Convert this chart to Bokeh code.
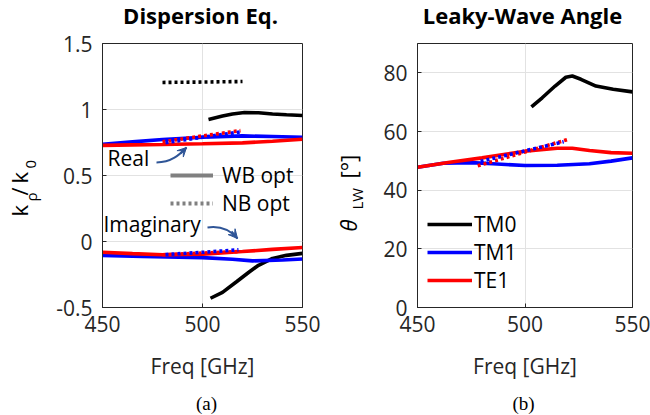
import numpy as np
from bokeh.plotting import figure
from bokeh.layouts import row, column
from bokeh.models import Range1d, FixedTicker, Legend, LegendItem, Label, Arrow, VeeHead
from bokeh.embed import file_html
from bokeh.resources import INLINE

# ---------------- data: normalised wavenumber k_rho/k_0 ----------------
freq_ticks = [450, 500, 550]
kr_ticks = [-0.5, 0, 0.5, 1, 1.5]
kr_tick_labels = ["-0.5", "0", "0.5", "1", "1.5"]
ang_ticks = [0, 20, 40, 60, 80]
ang_tick_labels = ["0", "20", "40", "60", "80"]

# wide-band optimised (solid), real part
tm0_wb_re_f = [503, 510, 515, 521, 528, 535, 542, 550]
tm0_wb_re = [0.925, 0.950, 0.966, 0.977, 0.975, 0.966, 0.960, 0.955]
tm1_wb_re_f = [450, 465, 480, 500, 520, 535, 550]
tm1_wb_re = [0.737, 0.755, 0.773, 0.790, 0.800, 0.795, 0.790]
te1_wb_re_f = [450, 465, 480, 500, 520, 535, 550]
te1_wb_re = [0.728, 0.732, 0.735, 0.740, 0.747, 0.760, 0.775]

# wide-band optimised (solid), imaginary part
tm0_wb_im_f = [504, 510, 517, 523, 528, 535, 542, 550]
tm0_wb_im = [-0.43, -0.385, -0.305, -0.235, -0.180, -0.128, -0.105, -0.090]
tm1_wb_im_f = [450, 470, 500, 515, 525, 540, 550]
tm1_wb_im = [-0.106, -0.113, -0.122, -0.135, -0.147, -0.140, -0.132]
te1_wb_im_f = [450, 465, 480, 500, 520, 535, 550]
te1_wb_im = [-0.081, -0.092, -0.100, -0.097, -0.076, -0.060, -0.046]

# narrow-band optimised (dotted)
tm0_nb_re_f = [480, 500, 520]
tm0_nb_re = [1.205, 1.208, 1.212]
tm1_nb_re_f = [480, 500, 519]
tm1_nb_re = [0.745, 0.790, 0.830]
te1_nb_re_f = [480, 500, 519]
te1_nb_re = [0.755, 0.800, 0.840]
tm1_nb_im_f = [480, 500, 518]
tm1_nb_im = [-0.100, -0.082, -0.063]
te1_nb_im_f = [480, 500, 518]
te1_nb_im = [-0.100, -0.088, -0.076]

# ---------------- data: leaky-wave pointing angle (deg) ----------------
tm0_wb_ang_f = [503, 508, 514, 519, 522, 526, 533, 541, 550]
tm0_wb_ang = [68.4, 71.5, 75.5, 78.5, 78.9, 77.8, 75.5, 74.4, 73.5]
tm1_wb_ang_f = [450, 462, 475, 485, 500, 515, 530, 540, 550]
tm1_wb_ang = [47.8, 49.2, 49.4, 49.0, 48.4, 48.5, 49.0, 49.9, 51.0]
te1_wb_ang_f = [450, 465, 480, 500, 515, 522, 530, 540, 550]
te1_wb_ang = [47.8, 49.5, 51.0, 53.3, 54.3, 54.3, 53.5, 52.8, 52.6]
tm1_nb_ang_f = [478, 500, 518]
tm1_nb_ang = [49.6, 53.4, 56.5]
te1_nb_ang_f = [478, 500, 520]
te1_nb_ang = [48.3, 53.0, 57.3]

# sample segment used only for the line-style key (kept outside the visible x range)
key_f = [400, 401]
key_v = [0, 0]

FONT = "Open Sans"
INK = "#262626"
BLUE = "#0000ff"
RED = "#ff0000"
ARROW = "#2f5597"
SOLID_W = 3.6
DOT_W = 3.6
DOT = "3 3"

# page geometry (pixels)
TITLE_H = 30          # strip carrying the panel titles
CAP_H = 22            # strip carrying the (a)/(b) captions
MAIN_H = 415 - TITLE_H - CAP_H
YL_W = 48             # width of each strip that carries a rotated y label
L_X0, L_X1 = 102, 302
R_X0, R_X1 = 417, 632
F_TOP, F_BOT = 43, 307


def left_xy(sx, sy):
    return (450 + (sx - L_X0) / (L_X1 - L_X0) * 100,
            1.5 - (sy - F_TOP) / (F_BOT - F_TOP) * 2.0)


def text_strip(width, height):
    # blank canvas in pixel coordinates (y grows downward) for free-standing text
    s = figure(frame_width=width, frame_height=height, output_backend="svg",
               toolbar_location=None, title=None,
               x_range=Range1d(0, width), y_range=Range1d(height, 0),
               x_axis_type=None, y_axis_type=None,
               min_border_left=0, min_border_right=0, min_border_top=0, min_border_bottom=0)
    s.outline_line_color = None
    s.background_fill_color = "white"
    s.border_fill_color = "white"
    return s


def make_fig(width, left, right, yr, yticks, ylabels):
    p = figure(width=width, height=MAIN_H, output_backend="svg", toolbar_location=None,
               title=None, x_range=Range1d(450, 550), y_range=Range1d(*yr),
               min_border_left=left, min_border_right=right,
               min_border_top=F_TOP - TITLE_H, min_border_bottom=MAIN_H + TITLE_H - F_BOT)
    p.xaxis.ticker = FixedTicker(ticks=freq_ticks)
    p.yaxis.ticker = FixedTicker(ticks=yticks)
    p.yaxis.major_label_overrides = {float(t): s for t, s in zip(yticks, ylabels)}
    p.xaxis.major_label_overrides = {float(t): str(t) for t in freq_ticks}
    for ax in (p.xaxis[0], p.yaxis[0]):
        ax.major_label_text_font = FONT
        ax.major_label_text_font_size = "21px"
        ax.major_label_text_color = INK
        ax.axis_line_color = INK
        ax.major_tick_line_color = INK
        ax.major_tick_in = 4
        ax.major_tick_out = 0
        ax.minor_tick_line_color = None
    p.yaxis.major_label_standoff = 10
    p.xaxis.major_label_standoff = 8
    p.xaxis.axis_label = "Freq [GHz]"
    p.xaxis.axis_label_text_font = FONT
    p.xaxis.axis_label_text_font_size = "21px"
    p.xaxis.axis_label_text_font_style = "normal"
    p.xaxis.axis_label_text_color = INK
    p.xaxis.axis_label_standoff = 17
    p.grid.grid_line_color = "#e2e2e2"
    p.outline_line_color = INK
    p.background_fill_color = "white"
    p.border_fill_color = "white"
    return p


def rot_text(s, x, y, text, size, style="normal"):
    # x is the centre line of the rotated text, y where the text starts (reads upward)
    s.add_layout(Label(x=x, y=y, text=text, angle=np.pi / 2, text_align="left",
                       text_baseline="middle", text_font=FONT,
                       text_font_size=size, text_font_style=style, text_color="black"))


# ======================= (a) dispersion =======================
pa = make_fig(330 - YL_W, L_X0 - YL_W, 330 - L_X1, (-0.5, 1.5), kr_ticks, kr_tick_labels)

pa.line(tm0_wb_re_f, tm0_wb_re, color="black", line_width=SOLID_W)
pa.line(tm1_wb_re_f, tm1_wb_re, color=BLUE, line_width=SOLID_W)
pa.line(te1_wb_re_f, te1_wb_re, color=RED, line_width=SOLID_W)
pa.line(tm0_wb_im_f, tm0_wb_im, color="black", line_width=SOLID_W)
pa.line(tm1_wb_im_f, tm1_wb_im, color=BLUE, line_width=SOLID_W)
pa.line(te1_wb_im_f, te1_wb_im, color=RED, line_width=SOLID_W)

pa.line(tm0_nb_re_f, tm0_nb_re, color="black", line_width=DOT_W, line_dash=DOT)
pa.line(te1_nb_re_f, te1_nb_re, color=RED, line_width=DOT_W, line_dash=DOT)
pa.line(tm1_nb_re_f, tm1_nb_re, color=BLUE, line_width=DOT_W, line_dash=DOT, line_dash_offset=3)
pa.line(te1_nb_im_f, te1_nb_im, color=RED, line_width=DOT_W, line_dash=DOT)
pa.line(tm1_nb_im_f, tm1_nb_im, color=BLUE, line_width=DOT_W, line_dash=DOT, line_dash_offset=3)

# line-style key
wb_key = pa.line(key_f, key_v, color="#808080", line_width=4)
nb_key = pa.line(key_f, key_v, color="#808080", line_width=4, line_dash=DOT)
leg_a = Legend(items=[LegendItem(label="WB opt", renderers=[wb_key]),
                      LegendItem(label="NB opt", renderers=[nb_key])],
               location=(170 - L_X0, 90), glyph_width=43, glyph_height=26,
               label_height=26, spacing=0, padding=0, margin=0, label_standoff=9,
               label_text_font=FONT, label_text_font_size="21px", label_text_color="black",
               border_line_alpha=0, background_fill_alpha=0)
pa.add_layout(leg_a)

# "Real" / "Imaginary" callouts with curved arrows
for txt, (sx, sy) in (("Real", (107, 157)), ("Imaginary", (103, 223))):
    x, y = left_xy(sx, sy)
    pa.add_layout(Label(x=x, y=y, text=txt, text_font=FONT, text_font_size="21px",
                        text_baseline="middle", text_align="left", text_color="black"))

callouts = [((156, 162), (172, 162), (180, 153), (186, 147)),
            ((207, 227), (221, 225), (231, 231), (237, 238))]
for s, c0, c1, e in callouts:
    (x0, y0), (cx0, cy0), (cx1, cy1), (x1, y1) = [left_xy(*q) for q in (s, c0, c1, e)]
    pa.bezier(x0=[x0], y0=[y0], x1=[x1], y1=[y1], cx0=[cx0], cy0=[cy0], cx1=[cx1], cy1=[cy1],
              line_color=ARROW, line_width=2)
    pa.add_layout(Arrow(x_start=cx1, y_start=cy1, x_end=x1, y_end=y1, line_color=ARROW,
                        line_width=2, end=VeeHead(size=9, fill_color=ARROW, line_color=ARROW)))

# y-axis label  k_rho / k_0  (strip coordinates start below the title strip)
ya = text_strip(YL_W, MAIN_H)
for x, y, t, size in ((18.5, 203, "k", "22px"), (30, 188, "ρ", "15px"),
                      (18.5, 182, "/", "22px"), (18.5, 170, "k", "22px"),
                      (30, 155, "0", "15px")):
    rot_text(ya, x, y - TITLE_H, t, size)

# ======================= (b) leaky-wave angle =======================
pb = make_fig(320 - YL_W, R_X0 - 330 - YL_W, 650 - R_X1, (0, 90), ang_ticks, ang_tick_labels)

r_tm0 = pb.line(tm0_wb_ang_f, tm0_wb_ang, color="black", line_width=SOLID_W)
r_tm1 = pb.line(tm1_wb_ang_f, tm1_wb_ang, color=BLUE, line_width=SOLID_W)
r_te1 = pb.line(te1_wb_ang_f, te1_wb_ang, color=RED, line_width=SOLID_W)
pb.line(te1_nb_ang_f, te1_nb_ang, color=RED, line_width=DOT_W, line_dash=DOT)
pb.line(tm1_nb_ang_f, tm1_nb_ang, color=BLUE, line_width=DOT_W, line_dash=DOT, line_dash_offset=3)

leg_b = Legend(items=[LegendItem(label="TM0", renderers=[r_tm0]),
                      LegendItem(label="TM1", renderers=[r_tm1]),
                      LegendItem(label="TE1", renderers=[r_te1])],
               location=(427 - R_X0, 13), glyph_width=45, glyph_height=26,
               label_height=26, spacing=0, padding=0, margin=0, label_standoff=2,
               label_text_font=FONT, label_text_font_size="21px", label_text_color="black",
               border_line_alpha=0, background_fill_alpha=0)
pb.add_layout(leg_b)

# y-axis label  theta_LW [deg]
yb = text_strip(YL_W, MAIN_H)
for x, y, t, size, st in ((17.5, 218, "θ", "22px", "italic"), (26, 196, "LW", "15px", "normal"),
                          (17.5, 165, "[°]", "22px", "normal")):
    rot_text(yb, x, y - TITLE_H, t, size, st)

# panel titles
tstrip = text_strip(650, TITLE_H)
for x, t in ((200, "Dispersion Eq."), (522, "Leaky-Wave Angle")):
    tstrip.add_layout(Label(x=x, y=14, text=t, text_font=FONT, text_font_size="22px",
                            text_font_style="bold", text_align="center",
                            text_baseline="middle", text_color="black"))

# panel captions
cap = text_strip(650, CAP_H)
for x, t in ((206, "(a)"), (523, "(b)")):
    cap.add_layout(Label(x=x, y=403 - (415 - CAP_H), text=t, text_font="Liberation Serif",
                         text_font_size="19px", text_align="center", text_baseline="middle",
                         text_color="black"))

layout = column(tstrip, row(ya, pa, yb, pb), cap)
open("out.html", "w").write(file_html(layout, INLINE))
